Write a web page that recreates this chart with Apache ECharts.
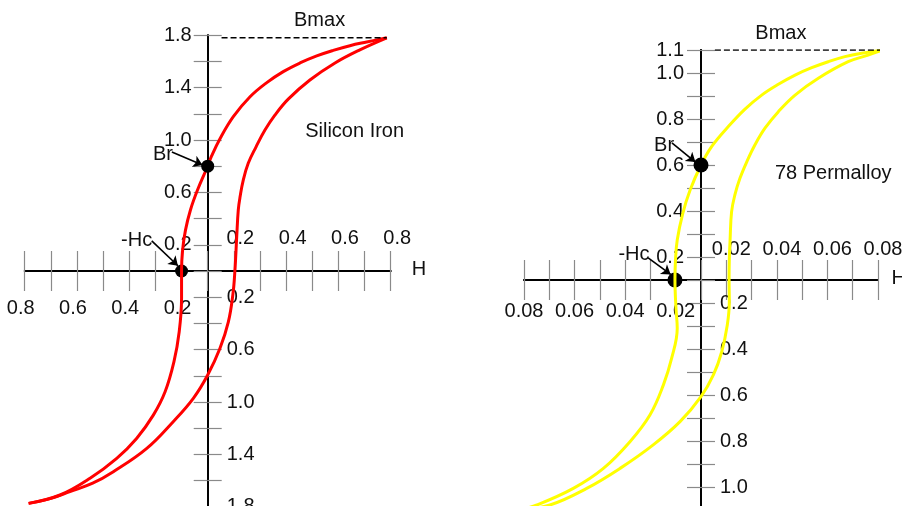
<!DOCTYPE html>
<html><head><meta charset="utf-8">
<script src="https://cdn.jsdelivr.net/npm/echarts@6/dist/echarts.min.js"></script>
<style>html,body{margin:0;padding:0;background:#fff}#c{width:902px;height:506px}</style>
</head><body><div id="c"></div>
<script>
// All values are in axis tick units (one tick = one unit), as drawn in the schematic.
// ---- Silicon Iron loop ----
const siDownH = [6.85, 6.08, 5.44, 4.80, 4.17, 3.53, 2.89, 2.26, 1.62, 0.98, 0.47, 0.15, 0, -0.39, -0.66, -0.85, -0.96, -1.0, -1.0, -1.09, -1.29, -1.63, -2.08, -2.72, -3.48, -4.50, -5.65, -6.85];
const siDownB = [8.9, 8.74, 8.60, 8.42, 8.21, 7.94, 7.61, 7.19, 6.65, 5.89, 5.05, 4.39, 4.0, 3.09, 2.33, 1.56, 0.80, 0, -1.04, -2.32, -3.46, -4.61, -5.50, -6.39, -7.15, -7.91, -8.55, -8.87];
const siUpH = [-6.85, -6.0, -5.27, -4.4, -3.61, -2.33, -1.32, -0.55, 0, 0.47, 0.79, 0.96, 1.04, 1.11, 1.17, 1.24, 1.36, 1.55, 1.85, 2.19, 2.57, 3.08, 3.91, 4.87, 5.82, 6.85];
const siUpB = [-8.87, -8.68, -8.42, -8.1, -7.66, -6.77, -5.75, -4.86, -3.97, -2.95, -1.94, -0.92, 0, 1.31, 2.33, 2.84, 3.47, 4.11, 4.74, 5.38, 5.95, 6.56, 7.29, 7.94, 8.44, 8.9];
const siBr = [0, 4.0];
const siHc = [-1.0, 0];
const siBmax = 8.9;
const siHTickAt = [1, 3, 5, 7];
const siHTickText = ['0.2', '0.4', '0.6', '0.8'];
const siBTickAt = [1, 3, 5, 7, 9];
const siBTickText = ['0.2', '0.6', '1.0', '1.4', '1.8'];

// ---- 78 Permalloy loop ----
const pmDownH = [7.2, 6.35, 5.69, 5.03, 4.38, 3.72, 3.06, 2.40, 1.74, 1.08, 0.42, 0, -0.43, -0.72, -0.94, -1.01, -1.03, -0.99, -0.94, -1.16, -1.49, -2.02, -2.81, -3.86, -5.05, -6.49, -7.2];
const pmDownB = [10, 9.86, 9.71, 9.49, 9.23, 8.91, 8.51, 8.04, 7.43, 6.67, 5.80, 5.0, 3.91, 2.90, 1.74, 0.85, 0, -1.23, -2.10, -3.40, -4.57, -5.87, -7.03, -8.19, -9.06, -9.78, -10];
const pmUpH = [-7.2, -5.97, -4.52, -3.2, -1.89, -0.83, 0, 0.49, 0.82, 1.04, 1.12, 1.11, 1.12, 1.15, 1.21, 1.34, 1.54, 1.81, 2.13, 2.53, 3.06, 3.72, 4.64, 5.82, 6.61, 7.2];
const pmUpB = [-10, -9.78, -9.06, -8.19, -7.17, -6.16, -5.07, -4.13, -3.12, -1.96, -0.94, 0, 0.9, 1.74, 2.97, 3.70, 4.42, 5.14, 5.87, 6.60, 7.32, 8.04, 8.77, 9.49, 9.78, 10];
const pmBr = [0, 5.0];
const pmHc = [-1.03, 0];
const pmBmax = 10;
const pmHTickAt = [1, 3, 5, 7];
const pmHTickText = ['0.02', '0.04', '0.06', '0.08'];
const pmBTickAt = [1, 3, 5, 7, 9, 10];
const pmBTickText = ['0.2', '0.4', '0.6', '0.8', '1.0', '1.1'];

// ---- annotations (text, anchor in axis units) ----
const siNotes = [['Bmax', 4.28, 9.58], ['Silicon Iron', 5.62, 5.34], ['H', 8.08, 0.06], ['Br', -1.71, 4.43], ['-Hc', -2.72, 1.18]];
const siArrows = [[[-1.37, 4.54], [-0.2, 4.05]], [[-2.14, 1.15], [-1.14, 0.2]]];
const pmNotes = [['Bmax', 3.16, 10.7], ['78 Permalloy', 5.23, 4.64], ['H', 7.82, 0.07], ['Br', -1.46, 5.87], ['-Hc', -2.65, 1.09]];
const pmArrows = [[[-1.15, 5.96], [-0.22, 5.13]], [[-2.09, 0.96], [-1.2, 0.24]]];

const FONT = "'Liberation Sans', Arial, sans-serif";
const zip = (a, b) => a.map((v, i) => [v, b[i]]);
function fmt(at, text, sign) {
  return function (v) {
    if (sign * v <= 0) return '';
    const i = at.indexOf(Math.round(Math.abs(v)));
    return (i >= 0 && Math.abs(Math.abs(v) - at[i]) < 1e-6) ? text[i] : '';
  };
}
function xAx(grid, pos, offset, at, text, sign, margin, padding) {
  return {
    type: 'value', gridIndex: grid, position: pos, offset: offset, min: -7, max: 7, interval: 1,
    axisLine: { show: true, onZero: false, lineStyle: { color: '#000', width: 1.8 } },
    axisTick: { show: true, inside: true, length: 20, lineStyle: { color: '#8a8a8a', width: 1.2 } },
    axisLabel: { show: true, formatter: fmt(at, text, sign), margin: margin, padding: padding, fontSize: 20, color: '#111', fontFamily: FONT },
    splitLine: { show: false }
  };
}
function yAx(grid, pos, offset, min, max, at, text, sign, margin) {
  return {
    type: 'value', gridIndex: grid, position: pos, offset: offset, min: min, max: max, interval: 1,
    axisLine: { show: true, onZero: false, lineStyle: { color: '#000', width: 1.8 } },
    axisTick: { show: true, inside: true, length: 14, lineStyle: { color: '#8a8a8a', width: 1.2 } },
    axisLabel: { show: true, formatter: fmt(at, text, sign), margin: margin, fontSize: 20, color: '#111', fontFamily: FONT },
    splitLine: { show: false }
  };
}
function loopSeries(xi, yi, downH, downB, upH, upB, color, br, hc, bmax, bmaxFrom, dot, notes, arrows) {
  const base = { xAxisIndex: xi, yAxisIndex: yi };
  const lineOpt = (d) => Object.assign({}, base, {
    type: 'line', data: d, smooth: 0.4, showSymbol: false, z: 2,
    lineStyle: { color: color, width: 3 }, silent: true
  });
  return [
    lineOpt(zip(downH, downB)),
    lineOpt(zip(upH, upB)),
    Object.assign({}, base, {
      type: 'line', data: [[bmaxFrom, bmax], [downH[0], bmax]], showSymbol: false, z: 2,
      lineStyle: { color: '#000', width: 1.4, type: [6, 3] }
    }),
    Object.assign({}, base, {
      type: 'scatter', data: [hc], symbolSize: dot, z: 1, itemStyle: { color: '#000', opacity: 1 }
    }),
    Object.assign({}, base, {
      type: 'scatter', data: [br], symbolSize: dot, z: 3, itemStyle: { color: '#000', opacity: 1 }
    }),
    Object.assign({}, base, {
      type: 'lines', coordinateSystem: 'cartesian2d', z: 4,
      data: arrows.map(a => ({ coords: a })),
      symbol: ['none', 'arrow'], symbolSize: 9,
      lineStyle: { color: '#000', width: 1.6, opacity: 1, curveness: 0 }
    }),
    Object.assign({}, base, {
      type: 'scatter', clip: false, z: 5, symbolSize: 0,
      itemStyle: { color: '#000' },
      data: notes.map(n => ({ name: n[0], value: [n[1], n[2]] })),
      label: { show: true, position: 'inside', formatter: '{b}', fontSize: 20, color: '#111',
        fontFamily: FONT, textBorderWidth: 0, textBorderColor: 'transparent', opacity: 1 }
    })
  ];
}

const chart = echarts.init(document.getElementById('c'), null, { renderer: 'canvas' });
// grid 0: origin at (207.7, 271); grid 1: origin at (701, 280)
chart.setOption({
  animation: false,
  backgroundColor: '#fff',
  grid: [
    { left: 24.7, width: 366, top: 35.2, height: 497.8, containLabel: false, outerBoundsMode: 'none' },
    { left: 524, width: 354, top: 50, height: 460, containLabel: false, outerBoundsMode: 'none' }
  ],
  xAxis: [
    xAx(0, 'bottom', -262, siHTickAt, siHTickText, -1, 27, [0, 8, 0, 0]),
    xAx(0, 'top', -235.8, siHTickAt, siHTickText, 1, 23, [0, 0, 0, 13]),
    xAx(1, 'bottom', -230, pmHTickAt, pmHTickText, -1, 21, [0, 0, 0, 0]),
    xAx(1, 'top', -230, pmHTickAt, pmHTickText, 1, 21, [0, 0, 0, 10])
  ],
  yAxis: [
    yAx(0, 'left', -183, -10, 9, siBTickAt, siBTickText, 1, 16),
    yAx(0, 'right', -183, -10, 9, siBTickAt, siBTickText, -1, 19),
    yAx(1, 'left', -177, -10, 10, pmBTickAt, pmBTickText, 1, 17),
    yAx(1, 'right', -177, -10, 10, pmBTickAt, pmBTickText.slice(0, 5), -1, 19)
  ],
  series: [].concat(
    loopSeries(0, 0, siDownH, siDownB, siUpH, siUpB, '#ff0000', siBr, siHc, siBmax, 0.53, 13, siNotes, siArrows),
    loopSeries(2, 2, pmDownH, pmDownB, pmUpH, pmUpB, '#ffff00', pmBr, pmHc, pmBmax, 0.55, 15, pmNotes, pmArrows)
  )
});
</script>
</body></html>
